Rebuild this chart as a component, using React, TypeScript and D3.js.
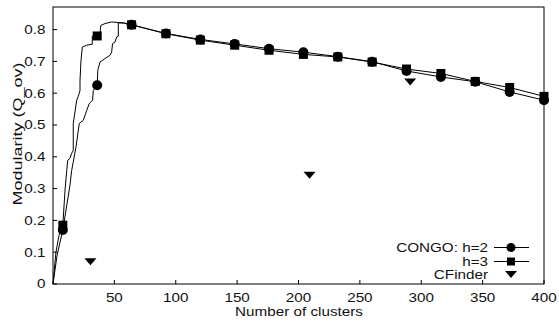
import React from "react";
import * as d3 from "d3";

const W = 559;
const H = 321;

// Modularity curves (x = number of clusters, y = Q_ov)
const congoH2Dense: [number, number][] = [
  [0, 0], [3.3, 0.09], [8, 0.17], [13.8, 0.31], [15.2, 0.357], [18.7, 0.43],
  [21.4, 0.505], [24.7, 0.515], [27.5, 0.546], [29.6, 0.568], [32.3, 0.578],
  [32.8, 0.609], [36, 0.625], [36.5, 0.672], [38.3, 0.698], [42.4, 0.709],
  [46.4, 0.719], [47.8, 0.73], [48.5, 0.756], [50.5, 0.761], [51.9, 0.777],
  [53.2, 0.779], [53.2, 0.821], [57.3, 0.821],
];
const congoH3Dense: [number, number][] = [
  [0, 0], [2.4, 0.1], [4.9, 0.153], [8, 0.185], [9.8, 0.295], [11.2, 0.357],
  [12, 0.389], [13.8, 0.395], [15.2, 0.411], [16.5, 0.42], [16.5, 0.505],
  [19.3, 0.578], [20.6, 0.59], [22, 0.609], [22, 0.64], [22.8, 0.703],
  [23.9, 0.745], [27.5, 0.751], [32, 0.754], [32, 0.78], [36, 0.782],
  [38.3, 0.787], [38.9, 0.813], [42.4, 0.819], [47.8, 0.824], [57.3, 0.821],
];

const markerX = [8, 36, 64, 92, 120, 148, 176, 204, 232, 260, 288, 316, 344, 372, 400];
const congoH2 = [0.17, 0.625, 0.815, 0.788, 0.769, 0.755, 0.740, 0.729, 0.715, 0.699, 0.670, 0.651, 0.636, 0.604, 0.578];
const congoH3 = [0.185, 0.78, 0.815, 0.787, 0.767, 0.751, 0.735, 0.722, 0.714, 0.698, 0.676, 0.662, 0.637, 0.618, 0.590];

const cfinderX = [30.5, 209, 291];
const cfinderY = [0.07, 0.342, 0.635];

const xTicks = [50, 100, 150, 200, 250, 300, 350, 400];
const yTicks = [0, 0.1, 0.2, 0.3, 0.4, 0.5, 0.6, 0.7, 0.8];

const legendLabels = ["CONGO: h=2", "h=3", "CFinder"];

const FONT = "'Liberation Sans', Arial, Helvetica, sans-serif";
const FS = 12;
const STRETCH = 1.27;

const left = 53;
const right = 544;
const top = 7;
const bottom = 284;

// Text with a horizontally widened face
function Label({
  x,
  y,
  anchor,
  children,
}: {
  x: number;
  y: number;
  anchor: "start" | "middle" | "end";
  children: React.ReactNode;
}) {
  return (
    <text
      transform={`translate(${x},${y}) scale(${STRETCH},1)`}
      textAnchor={anchor}
      fontSize={FS}
      fill="#111"
    >
      {children}
    </text>
  );
}

export default function App() {
  const x = d3.scaleLinear().domain([0, 400]).range([left, right]);
  const y = d3.scaleLinear().domain([0, 0.8]).range([bottom, bottom - 0.8 * 318]);

  const line = d3
    .line<[number, number]>()
    .x((d) => x(d[0]))
    .y((d) => y(d[1]));

  const h2Full: [number, number][] = [
    ...congoH2Dense,
    ...markerX.map((mx, i) => [mx, congoH2[i]] as [number, number]).filter((d) => d[0] >= 64),
  ];
  const h3Full: [number, number][] = [
    ...congoH3Dense,
    ...markerX.map((mx, i) => [mx, congoH3[i]] as [number, number]).filter((d) => d[0] >= 64),
  ];

  const tri = (cx: number, cy: number) =>
    `M${cx - 6},${cy - 3.5}L${cx + 6},${cy - 3.5}L${cx},${cy + 3.5}Z`;

  const legX = 511;
  const legRows = [252, 266, 279];

  return (
    <svg
      width={W}
      height={H}
      style={{ position: "absolute", left: 0, top: 0, background: "#fff" }}
      fontFamily={FONT}
    >
      <rect x={0} y={0} width={W} height={H} fill="#fff" />

      {/* ticks pointing inward */}
      {xTicks.map((t) => (
        <g key={"xt" + t}>
          <line x1={x(t)} x2={x(t)} y1={bottom} y2={bottom - 4} stroke="#000" strokeWidth={1} />
          <Label x={x(t)} y={302} anchor="middle">
            {t}
          </Label>
        </g>
      ))}
      {yTicks.map((t) => (
        <g key={"yt" + t}>
          <line x1={left} x2={left + 4} y1={y(t)} y2={y(t)} stroke="#000" strokeWidth={1} />
          <Label x={45.5} y={y(t) + 4.3} anchor="end">
            {t === 0 ? "0" : t.toFixed(1)}
          </Label>
        </g>
      ))}

      {/* series lines */}
      <path d={line(h2Full) || ""} fill="none" stroke="#000" strokeWidth={1} />
      <path d={line(h3Full) || ""} fill="none" stroke="#000" strokeWidth={1} />

      {/* markers */}
      {markerX.map((mx, i) => (
        <rect
          key={"s" + i}
          x={x(mx) - 4.5}
          y={y(congoH3[i]) - 4.5}
          width={9}
          height={9}
          fill="#000"
        />
      ))}
      {markerX.map((mx, i) => (
        <circle key={"c" + i} cx={x(mx)} cy={y(congoH2[i])} r={5} fill="#000" />
      ))}
      {cfinderX.map((cx, i) => (
        <path key={"t" + i} d={tri(x(cx), y(cfinderY[i]))} fill="#000" />
      ))}

      {/* plot frame */}
      <rect
        x={left}
        y={top}
        width={right - left}
        height={bottom - top}
        fill="none"
        stroke="#000"
        strokeWidth={1}
      />

      {/* legend */}
      {legendLabels.map((lab, i) => (
        <Label key={lab} x={488} y={legRows[i]} anchor="end">
          {lab}
        </Label>
      ))}
      <line x1={494} x2={529} y1={legRows[0] - 4.5} y2={legRows[0] - 4.5} stroke="#000" />
      <circle cx={legX} cy={legRows[0] - 4.5} r={4.5} fill="#000" />
      <line x1={494} x2={529} y1={legRows[1] - 4.5} y2={legRows[1] - 4.5} stroke="#000" />
      <rect x={legX - 4} y={legRows[1] - 8.5} width={8} height={8} fill="#000" />
      <path d={tri(legX, legRows[2] - 4.5)} fill="#000" />

      {/* axis titles */}
      <Label x={299} y={316} anchor="middle">
        Number of clusters
      </Label>
      <text
        transform={`translate(22,134) rotate(-90)`}
        textAnchor="middle"
        fontSize={13}
        textLength={143}
        lengthAdjust="spacingAndGlyphs"
        fill="#111"
      >
        Modularity (Q_ov)
      </text>
    </svg>
  );
}
